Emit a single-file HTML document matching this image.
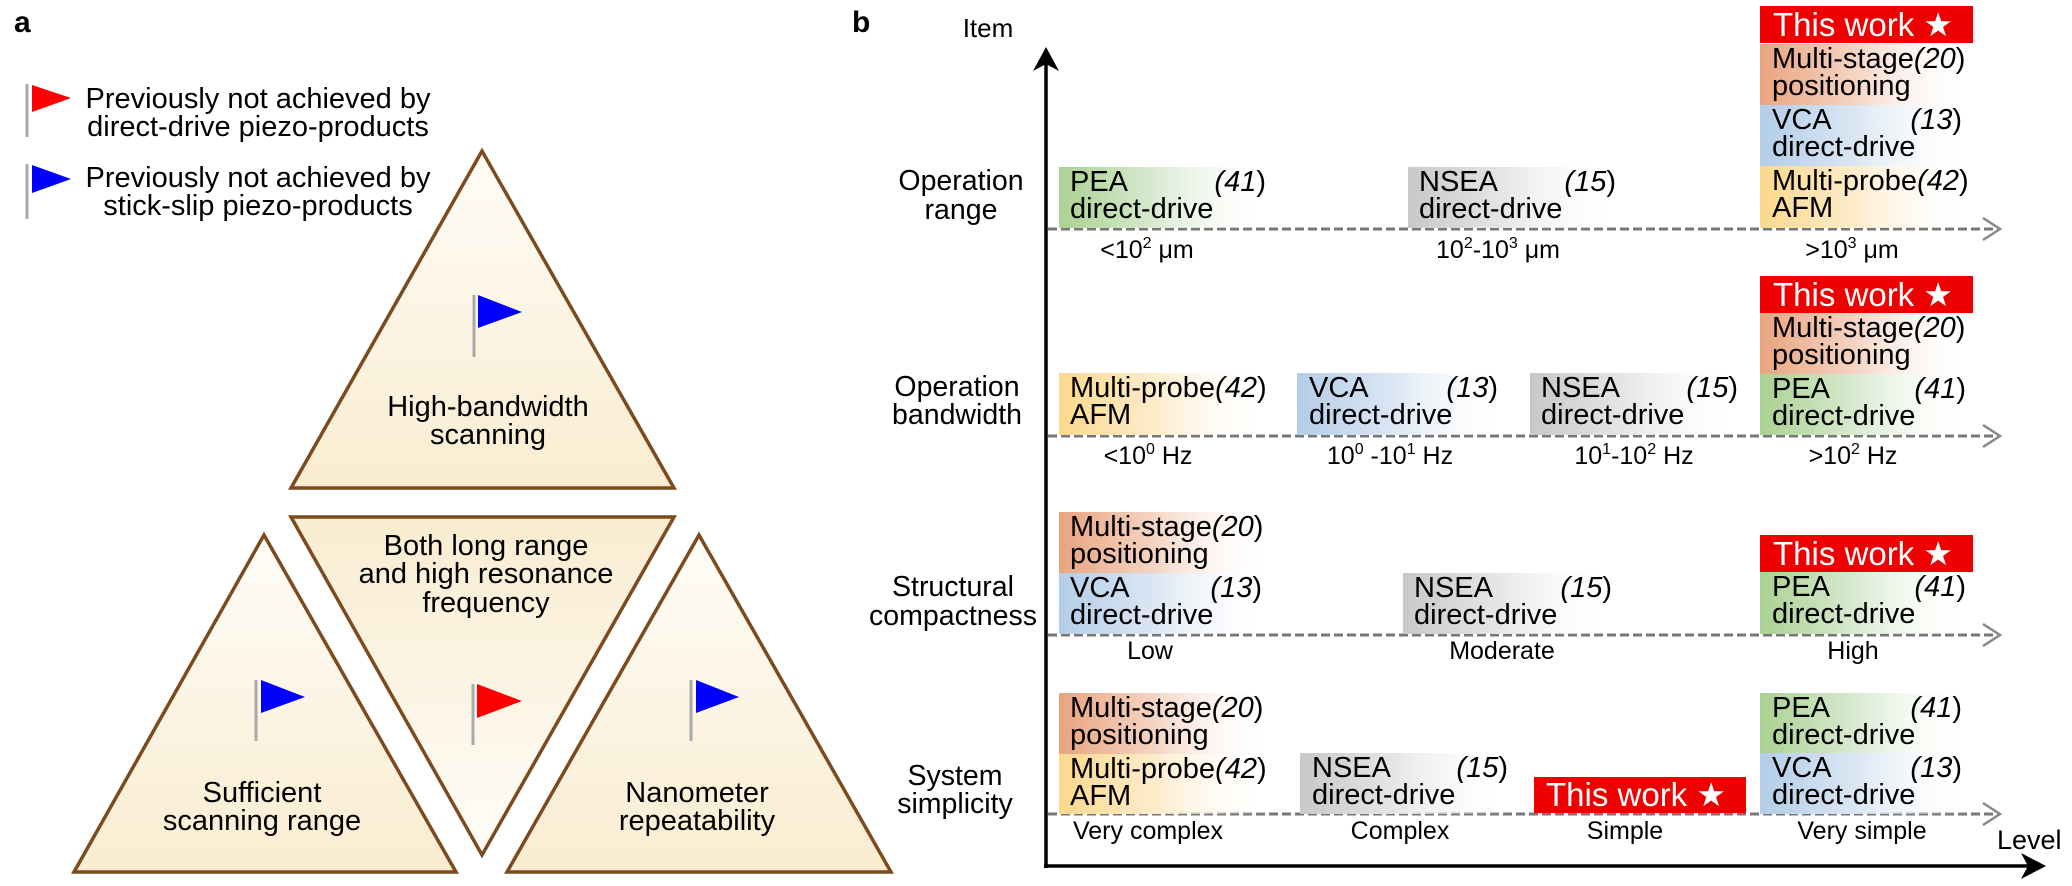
<!DOCTYPE html>
<html><head><meta charset="utf-8"><style>
html,body{margin:0;padding:0;background:#fff}
svg{display:block}
text{font-family:"Liberation Sans",Arial,sans-serif}
</style></head><body>
<svg width="2072" height="886" viewBox="0 0 2072 886" xmlns="http://www.w3.org/2000/svg">
<defs>
<linearGradient id="tri" x1="0" y1="0" x2="0" y2="1"><stop offset="0" stop-color="#fffdf8"/><stop offset="1" stop-color="#f9ecd0"/></linearGradient>
<linearGradient id="tri2" x1="0" y1="0" x2="0" y2="1"><stop offset="0" stop-color="#f9ecd0"/><stop offset="1" stop-color="#fffdf8"/></linearGradient>
<linearGradient id="gG" x1="0" y1="0" x2="1" y2="0"><stop offset="0" stop-color="#a9d191"/><stop offset="0.45" stop-color="#d8ead0"/><stop offset="1" stop-color="#fff" stop-opacity="0"/></linearGradient>
<linearGradient id="gO" x1="0" y1="0" x2="1" y2="0"><stop offset="0" stop-color="#e9a47f"/><stop offset="0.45" stop-color="#f5d4c3"/><stop offset="1" stop-color="#fff" stop-opacity="0"/></linearGradient>
<linearGradient id="gB" x1="0" y1="0" x2="1" y2="0"><stop offset="0" stop-color="#b3cde8"/><stop offset="0.45" stop-color="#dbe6f3"/><stop offset="1" stop-color="#fff" stop-opacity="0"/></linearGradient>
<linearGradient id="gY" x1="0" y1="0" x2="1" y2="0"><stop offset="0" stop-color="#fbd88c"/><stop offset="0.45" stop-color="#fdeccb"/><stop offset="1" stop-color="#fff" stop-opacity="0"/></linearGradient>
<linearGradient id="gS" x1="0" y1="0" x2="1" y2="0"><stop offset="0" stop-color="#c8c8c8"/><stop offset="0.45" stop-color="#e6e6e6"/><stop offset="1" stop-color="#fff" stop-opacity="0"/></linearGradient>
</defs>

<!-- Panel a -->
<text x="14" y="32" font-size="30" font-weight="bold">a</text>
<line x1="27" y1="84" x2="27" y2="137" stroke="#aaa" stroke-width="3"/>
<polygon points="32,85 71,98 32,112" fill="#f00"/>
<text x="258" y="108" font-size="29" text-anchor="middle">Previously not achieved by</text>
<text x="258" y="136" font-size="29" text-anchor="middle">direct-drive piezo-products</text>
<line x1="27" y1="164" x2="27" y2="219" stroke="#aaa" stroke-width="3"/>
<polygon points="32,165 71,179 32,193" fill="#00f"/>
<text x="258" y="187" font-size="29" text-anchor="middle">Previously not achieved by</text>
<text x="258" y="215" font-size="29" text-anchor="middle">stick-slip piezo-products</text>

<g stroke="#7b4a1f" stroke-width="3.5" stroke-linejoin="miter">
<polygon points="482,151 291,488 674,488" fill="url(#tri)"/>
<polygon points="291,517 674,517 482,855" fill="url(#tri2)"/>
<polygon points="264,535 74,872 456,872" fill="url(#tri)"/>
<polygon points="699,535 507,872 891,872" fill="url(#tri)"/>
</g>
<g stroke="#aaa" stroke-width="3">
<line x1="474" y1="295" x2="474" y2="357"/>
<line x1="473" y1="684" x2="473" y2="745"/>
<line x1="256" y1="680" x2="256" y2="741"/>
<line x1="691" y1="680" x2="691" y2="741"/>
</g>
<polygon points="478,295 522,312 478,328" fill="#00f"/>
<polygon points="477,684 522,701 477,718" fill="#f00"/>
<polygon points="261,680 305,697 261,713" fill="#00f"/>
<polygon points="696,680 739,697 696,713" fill="#00f"/>
<g font-size="29" text-anchor="middle">
<text x="488" y="416">High-bandwidth</text><text x="488" y="444">scanning</text>
<text x="486" y="555">Both long range</text><text x="486" y="583">and high resonance</text><text x="486" y="612">frequency</text>
<text x="262" y="802">Sufficient</text><text x="262" y="830">scanning range</text>
<text x="697" y="802">Nanometer</text><text x="697" y="830">repeatability</text>
</g>

<!-- Panel b -->
<text x="852" y="32" font-size="30" font-weight="bold">b</text>
<text x="988" y="37" font-size="26" text-anchor="middle">Item</text>
<g font-size="28.5" text-anchor="middle">
<text x="961" y="190">Operation</text><text x="961" y="219">range</text>
<text x="957" y="396">Operation</text><text x="957" y="424">bandwidth</text>
<text x="953" y="596">Structural</text><text x="953" y="625">compactness</text>
<text x="955" y="785">System</text><text x="955" y="813">simplicity</text>
</g>
<!-- axes -->
<line x1="1046" y1="64" x2="1046" y2="868" stroke="#000" stroke-width="3.5"/>
<polygon points="1046,47 1033,71 1046,64 1059,71" fill="#000"/>
<line x1="1044" y1="866" x2="2030" y2="866" stroke="#000" stroke-width="3.5"/>
<polygon points="2046,866 2021,853 2028,866 2021,879" fill="#000"/>
<text x="1997" y="849" font-size="27">Level</text>

<!-- dashed rows -->
<g stroke="#777" stroke-width="3" fill="none">
<line x1="1048" y1="229" x2="1998" y2="229" stroke-dasharray="9 4"/>
<line x1="1048" y1="436" x2="1998" y2="436" stroke-dasharray="9 4"/>
<line x1="1048" y1="635" x2="1998" y2="635" stroke-dasharray="9 4"/>
<line x1="1048" y1="814" x2="1998" y2="814" stroke-dasharray="9 4"/>
</g>
<g stroke="#888" stroke-width="2.5" fill="none">
<polyline points="1983,218 2000,229 1983,240"/>
<polyline points="1983,425 2000,436 1983,447"/>
<polyline points="1983,624 2000,635 1983,646"/>
<polyline points="1983,803 2000,814 1983,825"/>
</g>

<!-- tick labels -->
<g font-size="25" text-anchor="middle">
<text x="1147" y="258">&lt;10<tspan font-size="16" dy="-10">2</tspan><tspan dy="10"> μm</tspan></text>
<text x="1498" y="258">10<tspan font-size="16" dy="-10">2</tspan><tspan dy="10">-10</tspan><tspan font-size="16" dy="-10">3</tspan><tspan dy="10"> μm</tspan></text>
<text x="1852" y="258">&gt;10<tspan font-size="16" dy="-10">3</tspan><tspan dy="10"> μm</tspan></text>
<text x="1148" y="464">&lt;10<tspan font-size="16" dy="-10">0</tspan><tspan dy="10"> Hz</tspan></text>
<text x="1390" y="464">10<tspan font-size="16" dy="-10">0</tspan><tspan dy="10"> -10</tspan><tspan font-size="16" dy="-10">1</tspan><tspan dy="10"> Hz</tspan></text>
<text x="1634" y="464">10<tspan font-size="16" dy="-10">1</tspan><tspan dy="10">-10</tspan><tspan font-size="16" dy="-10">2</tspan><tspan dy="10"> Hz</tspan></text>
<text x="1853" y="464">&gt;10<tspan font-size="16" dy="-10">2</tspan><tspan dy="10"> Hz</tspan></text>
<text x="1150" y="659">Low</text><text x="1502" y="659">Moderate</text><text x="1853" y="659">High</text>
<text x="1148" y="839">Very complex</text><text x="1400" y="839">Complex</text><text x="1625" y="839">Simple</text><text x="1862" y="839">Very simple</text>
</g>

<!-- boxes -->
<g font-size="29">
<!-- row1 -->
<rect x="1059" y="167" width="212" height="61" fill="url(#gG)"/><text x="1070" y="191">PEA</text><text x="1070" y="218">direct-drive</text><text x="1266" y="191" text-anchor="end"><tspan font-style="italic">(41</tspan>)</text>
<rect x="1408" y="167" width="212" height="61" fill="url(#gS)"/><text x="1419" y="191">NSEA</text><text x="1419" y="218">direct-drive</text><text x="1616" y="191" text-anchor="end"><tspan font-style="italic">(15</tspan>)</text>
<rect x="1760" y="44" width="212" height="61" fill="url(#gO)"/><text x="1772" y="68">Multi-stage<tspan font-style="italic">(20</tspan>)</text><text x="1772" y="95">positioning</text>
<rect x="1760" y="105" width="212" height="61" fill="url(#gB)"/><text x="1772" y="129">VCA</text><text x="1772" y="156">direct-drive</text><text x="1962" y="129" text-anchor="end"><tspan font-style="italic">(13</tspan>)</text>
<rect x="1760" y="166" width="212" height="62" fill="url(#gY)"/><text x="1772" y="190">Multi-probe<tspan font-style="italic">(42</tspan>)</text><text x="1772" y="217">AFM</text>
<!-- row2 -->
<rect x="1059" y="373" width="212" height="62" fill="url(#gY)"/><text x="1070" y="397">Multi-probe<tspan font-style="italic">(42</tspan>)</text><text x="1070" y="424">AFM</text>
<rect x="1297" y="373" width="212" height="62" fill="url(#gB)"/><text x="1309" y="397">VCA</text><text x="1309" y="424">direct-drive</text><text x="1498" y="397" text-anchor="end"><tspan font-style="italic">(13</tspan>)</text>
<rect x="1530" y="373" width="212" height="62" fill="url(#gS)"/><text x="1541" y="397">NSEA</text><text x="1541" y="424">direct-drive</text><text x="1738" y="397" text-anchor="end"><tspan font-style="italic">(15</tspan>)</text>
<rect x="1760" y="313" width="212" height="61" fill="url(#gO)"/><text x="1772" y="337">Multi-stage<tspan font-style="italic">(20</tspan>)</text><text x="1772" y="364">positioning</text>
<rect x="1760" y="374" width="212" height="61" fill="url(#gG)"/><text x="1772" y="398">PEA</text><text x="1772" y="425">direct-drive</text><text x="1966" y="398" text-anchor="end"><tspan font-style="italic">(41</tspan>)</text>
<!-- row3 -->
<rect x="1059" y="512" width="212" height="61" fill="url(#gO)"/><text x="1070" y="536">Multi-stage<tspan font-style="italic">(20</tspan>)</text><text x="1070" y="563">positioning</text>
<rect x="1059" y="573" width="212" height="61" fill="url(#gB)"/><text x="1070" y="597">VCA</text><text x="1070" y="624">direct-drive</text><text x="1262" y="597" text-anchor="end"><tspan font-style="italic">(13</tspan>)</text>
<rect x="1403" y="573" width="212" height="61" fill="url(#gS)"/><text x="1414" y="597">NSEA</text><text x="1414" y="624">direct-drive</text><text x="1612" y="597" text-anchor="end"><tspan font-style="italic">(15</tspan>)</text>
<rect x="1760" y="572" width="212" height="62" fill="url(#gG)"/><text x="1772" y="596">PEA</text><text x="1772" y="623">direct-drive</text><text x="1966" y="596" text-anchor="end"><tspan font-style="italic">(41</tspan>)</text>
<!-- row4 -->
<rect x="1059" y="693" width="212" height="61" fill="url(#gO)"/><text x="1070" y="717">Multi-stage<tspan font-style="italic">(20</tspan>)</text><text x="1070" y="744">positioning</text>
<rect x="1059" y="754" width="212" height="60" fill="url(#gY)"/><text x="1070" y="778">Multi-probe<tspan font-style="italic">(42</tspan>)</text><text x="1070" y="805">AFM</text>
<rect x="1300" y="753" width="212" height="61" fill="url(#gS)"/><text x="1312" y="777">NSEA</text><text x="1312" y="804">direct-drive</text><text x="1508" y="777" text-anchor="end"><tspan font-style="italic">(15</tspan>)</text>
<rect x="1760" y="693" width="212" height="60" fill="url(#gG)"/><text x="1772" y="717">PEA</text><text x="1772" y="744">direct-drive</text><text x="1962" y="717" text-anchor="end"><tspan font-style="italic">(41</tspan>)</text>
<rect x="1760" y="753" width="212" height="61" fill="url(#gB)"/><text x="1772" y="777">VCA</text><text x="1772" y="804">direct-drive</text><text x="1962" y="777" text-anchor="end"><tspan font-style="italic">(13</tspan>)</text>
</g>
<!-- This work boxes -->
<g font-size="33" fill="#fff">
<rect x="1760" y="6" width="213" height="37" fill="#ee0000"/><text x="1773" y="36">This work ★</text>
<rect x="1760" y="276" width="213" height="37" fill="#ee0000"/><text x="1773" y="306">This work ★</text>
<rect x="1760" y="535" width="213" height="37" fill="#ee0000"/><text x="1773" y="565">This work ★</text>
<rect x="1534" y="777" width="212" height="36" fill="#ee0000"/><text x="1546" y="806">This work ★</text>
</g>
</svg>
</body></html>
